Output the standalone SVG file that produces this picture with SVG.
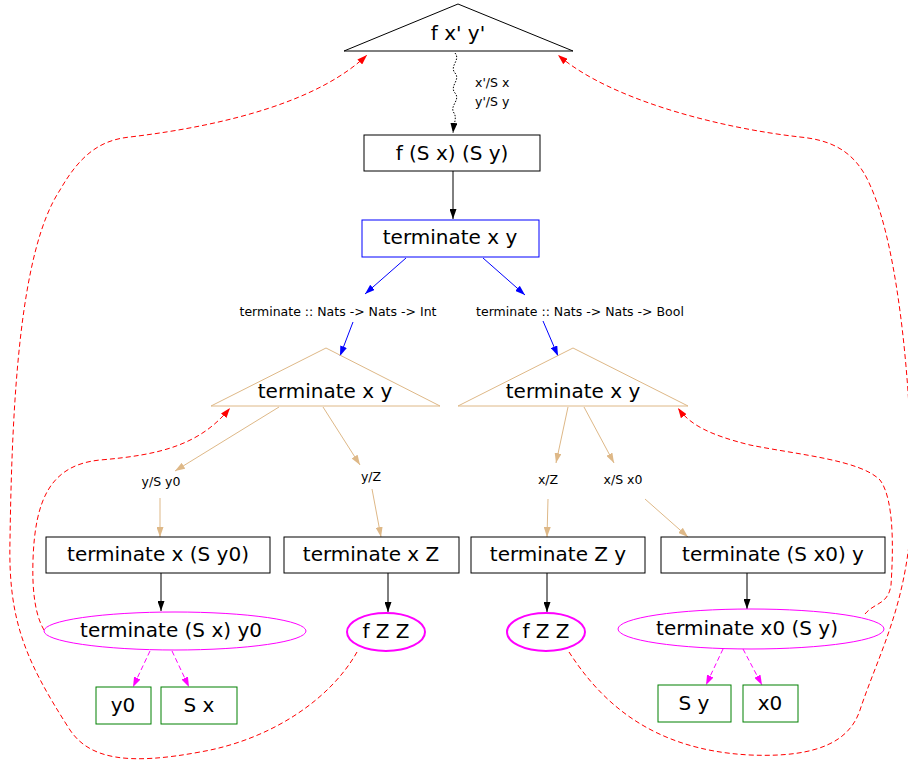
<svg xmlns="http://www.w3.org/2000/svg" width="908" height="763" viewBox="0 0 908 763">
<style>
.t{font-family:"DejaVu Sans",sans-serif;font-size:20px;fill:#000;text-anchor:middle}
.l{font-family:"DejaVu Sans",sans-serif;font-size:12.5px;fill:#000;text-anchor:middle}
.bk{stroke:#000;fill:none;stroke-width:1}
.bl{stroke:#0000ff;fill:none;stroke-width:1}
.tn{stroke:#deb887;fill:none;stroke-width:1}
.mg{stroke:#ff00ff;fill:none;stroke-width:1;stroke-dasharray:5,3}
.rd{stroke:#ff0000;fill:none;stroke-width:1;stroke-dasharray:5,3}
.gr{stroke:#008000;fill:#fff}
</style>
<defs>
<marker id="ab" markerWidth="10" markerHeight="7" refX="10" refY="3.5" orient="auto" markerUnits="userSpaceOnUse"><path d="M0,0L10,3.5L0,7z" fill="#000"/></marker>
<marker id="abl" markerWidth="10" markerHeight="7" refX="10" refY="3.5" orient="auto" markerUnits="userSpaceOnUse"><path d="M0,0L10,3.5L0,7z" fill="#0000ff"/></marker>
<marker id="atn" markerWidth="10" markerHeight="7" refX="10" refY="3.5" orient="auto" markerUnits="userSpaceOnUse"><path d="M0,0L10,3.5L0,7z" fill="#deb887"/></marker>
<marker id="amg" markerWidth="10" markerHeight="7" refX="10" refY="3.5" orient="auto" markerUnits="userSpaceOnUse"><path d="M0,0L10,3.5L0,7z" fill="#ff00ff"/></marker>
<marker id="ard" markerWidth="10" markerHeight="7" refX="10" refY="3.5" orient="auto" markerUnits="userSpaceOnUse"><path d="M0,0L10,3.5L0,7z" fill="#ff0000"/></marker>
</defs>
<rect width="908" height="763" fill="#fff"/>

<g id="connectors">
<path class="bk" stroke-dasharray="1.5,1.5" d="M455,53 C461,60 449,66 455,73 C461,80 449,86 455,93 C461,100 449,106 454,113 C457,118 454,122 453,133" marker-end="url(#ab)"/>
<text class="l" x="475" y="87" style="text-anchor:start">x'/S x</text>
<text class="l" x="475" y="106" style="text-anchor:start">y'/S y</text>
<line class="bk" x1="453" y1="171" x2="453" y2="219" marker-end="url(#ab)"/>
<line class="bl" x1="406" y1="258" x2="365" y2="294" marker-end="url(#abl)"/>
<text class="l" x="338" y="316">terminate :: Nats -&gt; Nats -&gt; Int</text>
<line class="bl" x1="353" y1="322" x2="340" y2="356" marker-end="url(#abl)"/>
<line class="bl" x1="483" y1="258" x2="525" y2="295" marker-end="url(#abl)"/>
<text class="l" x="580" y="316">terminate :: Nats -&gt; Nats -&gt; Bool</text>
<line class="bl" x1="543" y1="321" x2="558" y2="356" marker-end="url(#abl)"/>

<line class="tn" x1="279" y1="407" x2="175" y2="471" marker-end="url(#atn)"/>
<text class="l" x="161" y="486">y/S y0</text>
<line class="tn" x1="160" y1="498" x2="160" y2="537" marker-end="url(#atn)"/>
<line class="tn" x1="323" y1="407" x2="360" y2="465" marker-end="url(#atn)"/>
<text class="l" x="371" y="481">y/Z</text>
<line class="tn" x1="372" y1="489" x2="381" y2="537" marker-end="url(#atn)"/>
<line class="tn" x1="568" y1="407" x2="556" y2="463" marker-end="url(#atn)"/>
<text class="l" x="548" y="484">x/Z</text>
<line class="tn" x1="548" y1="499" x2="547" y2="537" marker-end="url(#atn)"/>
<line class="tn" x1="584" y1="407" x2="614" y2="463" marker-end="url(#atn)"/>
<text class="l" x="623" y="484">x/S x0</text>
<line class="tn" x1="645" y1="499" x2="688" y2="537" marker-end="url(#atn)"/>

<line class="bk" x1="161" y1="573" x2="161" y2="611" marker-end="url(#ab)"/>
<line class="bk" x1="388" y1="573" x2="388" y2="612" marker-end="url(#ab)"/>
<line class="bk" x1="547" y1="573" x2="547" y2="612" marker-end="url(#ab)"/>
<line class="bk" x1="747" y1="573" x2="747" y2="609" marker-end="url(#ab)"/>

<line class="mg" x1="150" y1="651" x2="133" y2="687" marker-end="url(#amg)"/>
<line class="mg" x1="172" y1="651" x2="189" y2="687" marker-end="url(#amg)"/>
<line class="mg" x1="723" y1="649" x2="706" y2="685" marker-end="url(#amg)"/>
<line class="mg" x1="743" y1="649" x2="762" y2="685" marker-end="url(#amg)"/>

<path class="rd" d="M357,652 C330,700 270,740 200,752 C130,765 90,760 70,730 C25,660 8,620 10,540 C12,400 20,250 60,190 C80,155 100,140 130,137 C230,125 320,100 367,55" marker-end="url(#ard)"/>
<path class="rd" d="M569,652 C600,700 650,750 750,755 C820,758 850,740 860,710 C880,650 910,600 912,500 C912,400 900,250 870,185 C855,150 830,140 800,137 C720,128 610,100 558,55" marker-end="url(#ard)"/>
<path class="rd" d="M44,630 C35,615 32,590 33,560 C35,500 50,465 100,460 C160,455 200,445 230,408" marker-end="url(#ard)"/>
<path class="rd" d="M865,614 C875,602 888,605 891,585 C893,555 895,500 880,480 C860,460 800,455 750,445 C710,435 690,425 678,408" marker-end="url(#ard)"/>
</g>

<g id="n_top"><polygon points="458,4 573,51 344,51" fill="#fff" stroke="#000"/><text class="t" x="458" y="40">f x' y'</text></g>
<g id="n_fS"><rect x="364" y="135" width="176" height="36" fill="#fff" stroke="#000"/><text class="t" x="452" y="160">f (S x) (S y)</text></g>
<g id="n_term"><rect x="362" y="220" width="177" height="37" fill="#fff" stroke="#0000ff"/><text class="t" x="450" y="244">terminate x y</text></g>
<g id="n_triL"><polygon points="326,348 440,406 211,406" fill="none" stroke="#deb887"/><text class="t" x="325" y="398">terminate x y</text></g>
<g id="n_triR"><polygon points="573,348 688,406 458,406" fill="none" stroke="#deb887"/><text class="t" x="573" y="398">terminate x y</text></g>
<g id="n_b1"><rect x="46" y="537" width="224" height="36" fill="#fff" stroke="#000"/><text class="t" x="158" y="561">terminate x (S y0)</text></g>
<g id="n_b2"><rect x="284" y="537" width="175" height="36" fill="#fff" stroke="#000"/><text class="t" x="371" y="561">terminate x Z</text></g>
<g id="n_b3"><rect x="471" y="537" width="174" height="36" fill="#fff" stroke="#000"/><text class="t" x="558" y="561">terminate Z y</text></g>
<g id="n_b4"><rect x="661" y="537" width="224" height="36" fill="#fff" stroke="#000"/><text class="t" x="773" y="561">terminate (S x0) y</text></g>
<g id="n_e1"><ellipse cx="175" cy="631" rx="131" ry="19" fill="#fff" stroke="#ff00ff"/><text class="t" x="171" y="637">terminate (S x) y0</text></g>
<g id="n_e2"><ellipse cx="386" cy="632" rx="39" ry="19" fill="#fff" stroke="#ff00ff" stroke-width="2"/><text class="t" x="386" y="638">f Z Z</text></g>
<g id="n_e3"><ellipse cx="546" cy="632" rx="39" ry="19" fill="#fff" stroke="#ff00ff" stroke-width="2"/><text class="t" x="546" y="638">f Z Z</text></g>
<g id="n_e4"><ellipse cx="751" cy="629" rx="133" ry="20" fill="#fff" stroke="#ff00ff"/><text class="t" x="747" y="635">terminate x0 (S y)</text></g>
<g id="n_y0"><rect x="96" y="687" width="55" height="37" class="gr"/><text class="t" x="123" y="712">y0</text></g>
<g id="n_Sx"><rect x="161" y="687" width="76" height="37" class="gr"/><text class="t" x="199" y="712">S x</text></g>
<g id="n_Sy"><rect x="658" y="685" width="73" height="37" class="gr"/><text class="t" x="694" y="710">S y</text></g>
<g id="n_x0"><rect x="743" y="685" width="55" height="37" class="gr"/><text class="t" x="770" y="710">x0</text></g>
</svg>
